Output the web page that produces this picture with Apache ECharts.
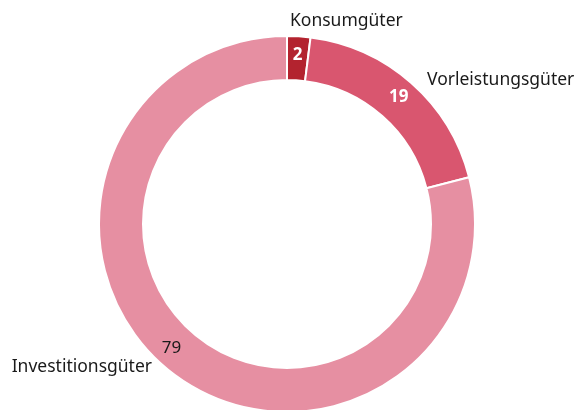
<!DOCTYPE html>
<html>
<head>
<meta charset="utf-8">
<script src="https://cdn.jsdelivr.net/npm/echarts@6/dist/echarts.min.js"></script>
<style>
  html, body { margin: 0; padding: 0; background: #fff; }
  #chart { width: 578px; height: 410px; }
</style>
</head>
<body>
<div id="chart"></div>
<script>
var categories = ['Konsumgüter', 'Vorleistungsgüter', 'Investitionsgüter'];
var values = [2, 19, 79];
var colors = ['#b3232f', '#d9566f', '#e68fa2'];
var valueLabelColors = ['#fff', '#fff', '#1a1a1a'];
var valueLabelWeights = ['bold', 'bold', 'normal'];

var chart = echarts.init(document.getElementById('chart'));

var data = categories.map(function (c, i) {
  return { name: c, value: values[i], itemStyle: { color: colors[i] } };
});

// outer name label positions
var nameSpots = [
  { x: 290, y: 21, align: 'left' },
  { x: 427, y: 80, align: 'left' },
  { x: 152, y: 367, align: 'right' }
];

chart.setOption({
  animation: false,
  series: [{
    type: 'pie',
    center: [287, 224],
    radius: [144, 188],
    startAngle: 90,
    clockwise: true,
    silent: true,
    itemStyle: { borderColor: '#fff', borderWidth: 2 },
    label: {
      position: 'inside',
      fontFamily: 'Noto Sans',
      fontSize: 17,
      formatter: '{c}'
    },
    data: data.map(function (d, i) {
      return Object.assign({}, d, {
        label: { color: valueLabelColors[i], fontWeight: valueLabelWeights[i] }
      });
    }),
    labelLayout: function (p) {
      if (p.dataIndex === 2) return { dx: -12, dy: -9 };
      return {};
    }
  }, {
    type: 'pie',
    center: [287, 224],
    radius: [144, 188],
    startAngle: 90,
    silent: true,
    itemStyle: { color: 'rgba(0,0,0,0)', borderWidth: 0 },
    label: {
      position: 'outside',
      formatter: '{b}',
      fontFamily: 'Noto Sans',
      fontSize: 17.5,
      color: '#1a1a1a',
      overflow: 'none',
      width: 200
    },
    labelLine: { show: false },
    data: categories.map(function (c, i) { return { name: c, value: values[i] }; }),
    labelLayout: function (p) {
      var s = nameSpots[p.dataIndex];
      return { x: s.x, y: s.y, align: s.align, verticalAlign: 'middle' };
    }
  }]
});
</script>
</body>
</html>
